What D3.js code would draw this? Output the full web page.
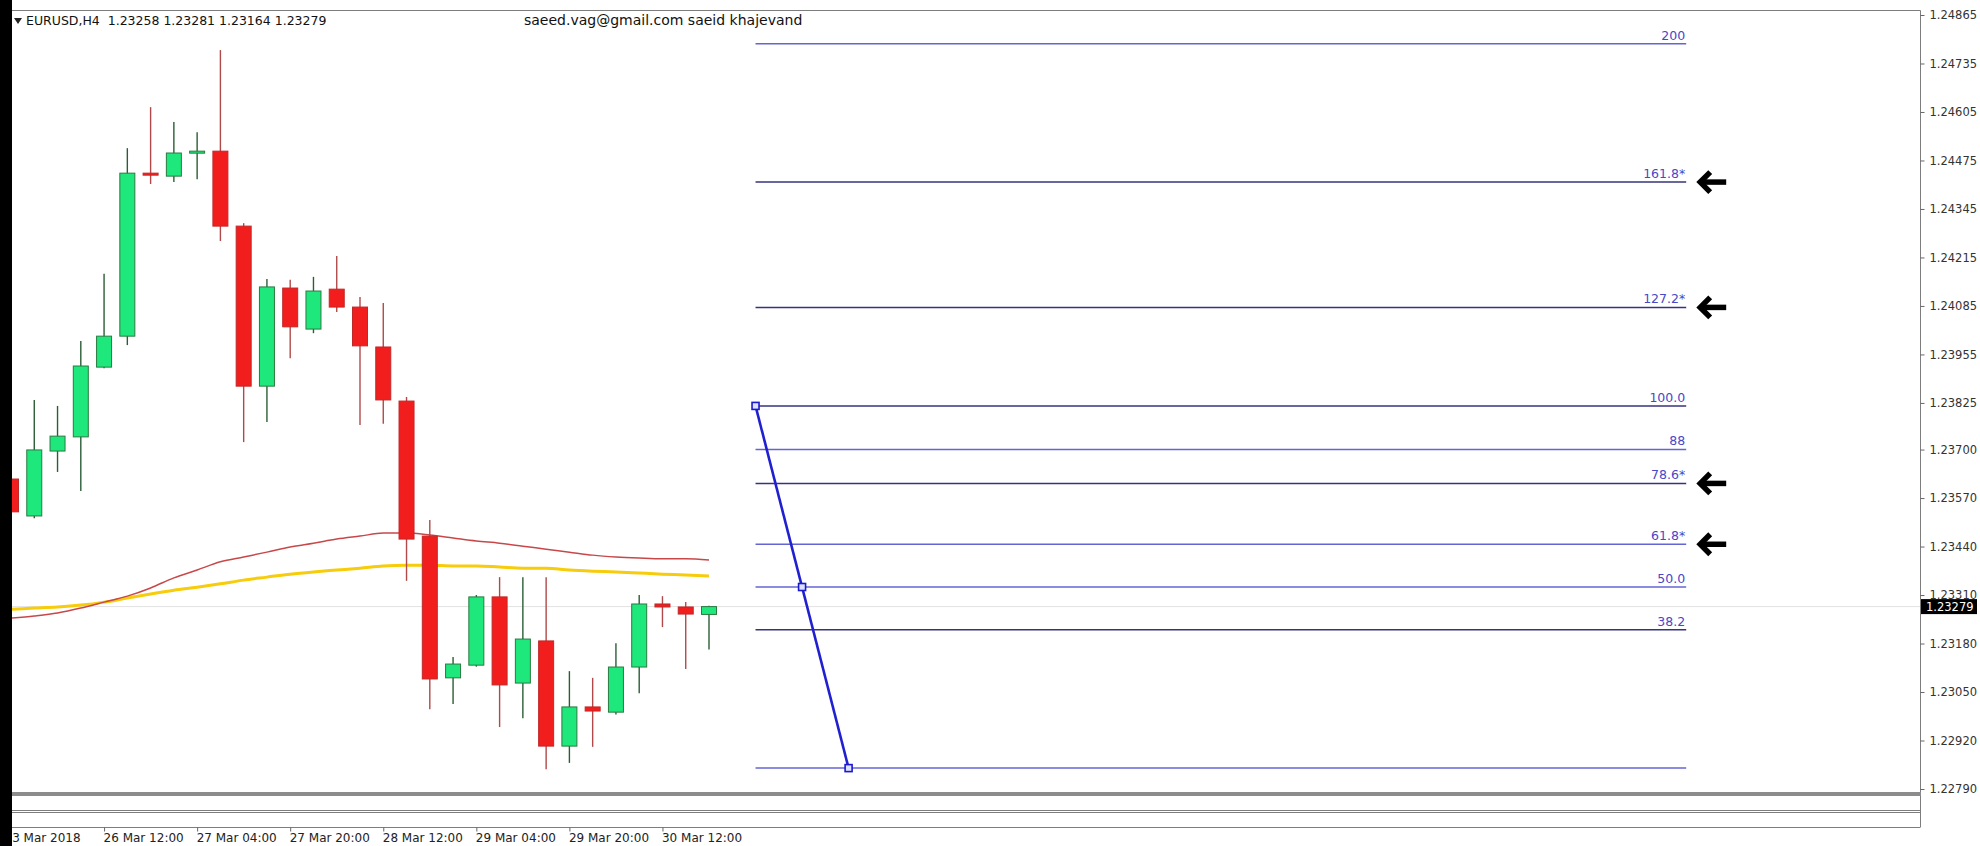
<!DOCTYPE html>
<html><head><meta charset="utf-8">
<script src="https://cdn.jsdelivr.net/npm/d3@7"></script>
<style>body{margin:0;background:#fff;overflow:hidden;} svg{display:block;}</style>
</head><body>
<svg id="c" width="1980" height="846"></svg>
<script>
// ---------- DATA ----------
const barTimes = ["23 Mar 20:00","26 Mar 00:00","26 Mar 04:00","26 Mar 08:00","26 Mar 12:00","26 Mar 16:00","26 Mar 20:00",
  "27 Mar 00:00","27 Mar 04:00","27 Mar 08:00","27 Mar 12:00","27 Mar 16:00","27 Mar 20:00",
  "28 Mar 00:00","28 Mar 04:00","28 Mar 08:00","28 Mar 12:00","28 Mar 16:00","28 Mar 20:00",
  "29 Mar 00:00","29 Mar 04:00","29 Mar 08:00","29 Mar 12:00","29 Mar 16:00","29 Mar 20:00",
  "30 Mar 00:00","30 Mar 04:00","30 Mar 08:00","30 Mar 12:00","30 Mar 16:00","30 Mar 20:00"];
const openP  = [1.23621,1.23522,1.23696,1.23734,1.23921,1.24004,1.24441,1.24433,1.24495,1.24500,1.24299,1.23870,1.24133,1.24023,1.24130,1.24082,1.23975,1.23830,1.23468,1.23088,1.23122,1.23305,1.23074,1.23187,1.22905,1.23010,1.22996,1.23117,1.23286,1.23278,1.23258];
const highP  = [1.23645,1.23833,1.23817,1.23991,1.24171,1.24508,1.24618,1.24578,1.24551,1.24771,1.24307,1.24157,1.24155,1.24163,1.24219,1.24109,1.24093,1.23841,1.23511,1.23144,1.23310,1.23358,1.23358,1.23358,1.23106,1.23088,1.23181,1.23310,1.23307,1.23291,1.23281];
const lowP   = [1.23525,1.23516,1.23640,1.23589,1.23918,1.23980,1.24412,1.24417,1.24425,1.24259,1.23720,1.23774,1.23945,1.24012,1.24069,1.23766,1.23769,1.23348,1.23004,1.23018,1.23118,1.22956,1.22980,1.22843,1.22860,1.22903,1.22990,1.23047,1.23224,1.23112,1.23164];
const closeP = [1.23533,1.23699,1.23736,1.23924,1.24004,1.24441,1.24436,1.24495,1.24500,1.24299,1.23870,1.24136,1.24029,1.24125,1.24082,1.23978,1.23833,1.23460,1.23085,1.23125,1.23305,1.23069,1.23192,1.22905,1.23010,1.22999,1.23117,1.23286,1.23278,1.23259,1.23279];
const maRed    = [1.23248,1.23254,1.23262,1.23275,1.23291,1.23307,1.23329,1.23356,1.23377,1.23399,1.23412,1.23425,1.23439,1.23449,1.23460,1.23468,1.23476,1.23476,1.23471,1.23463,1.23455,1.23449,1.23441,1.23433,1.23425,1.23417,1.23412,1.23409,1.23407,1.23407,1.23404];
const maYellow = [1.23272,1.23275,1.23278,1.23283,1.23291,1.23302,1.23313,1.23323,1.23331,1.23340,1.23350,1.23358,1.23366,1.23372,1.23377,1.23382,1.23388,1.23390,1.23390,1.23388,1.23388,1.23385,1.23382,1.23382,1.23377,1.23374,1.23372,1.23369,1.23366,1.23364,1.23361];
const priceTicks = [1.24865,1.24735,1.24605,1.24475,1.24345,1.24215,1.24085,1.23955,1.23825,1.23700,1.23570,1.23440,1.23310,1.23180,1.23050,1.22920,1.22790];
const timeTickBars = [0,4,8,12,16,20,24,28];
const timeTickLabels = ["23 Mar 2018","26 Mar 12:00","27 Mar 04:00","27 Mar 20:00","28 Mar 12:00","29 Mar 04:00","29 Mar 20:00","30 Mar 12:00"];
const fibLevels = [0,38.2,50,61.8,78.6,88,100,127.2,161.8,200];
const fibLabels = ["","38.2","50.0","61.8*","78.6*","88","100.0","127.2*","161.8*","200"];
const fibDark   = [false,true,false,false,true,false,true,true,true,false];
const fibArrowLevels = [61.8,78.6,127.2,161.8];
const fibAnchorBars = [32,36];
const fibAnchorPrices = [1.23817,1.22846];
const fibEndBar = 72;
const symbolText = "EURUSD,H4  1.23258 1.23281 1.23164 1.23279";
const authorText = "saeed.vag@gmail.com saeid khajevand";
const lastPrice = 1.23279;

// ---------- SCALES ----------
const svg = d3.select("#c");
const plotL = 12, plotR = 1920, plotT = 10, plotB = 792;
const y = d3.scaleLinear().domain([priceTicks[priceTicks.length-1], priceTicks[0]]).range([789, 15]);
const x = d3.scaleLinear().domain([0, 30]).range([11, 709]);
const bodyW = 15;

svg.append("rect").attr("width",1980).attr("height",846).attr("fill","#fff");
svg.append("defs").append("clipPath").attr("id","plot")
  .append("rect").attr("x",plotL).attr("y",plotT).attr("width",plotR-plotL).attr("height",plotB-plotT);

const plot = svg.append("g").attr("clip-path","url(#plot)");

// bid line
plot.append("line").attr("x1",plotL).attr("x2",plotR)
  .attr("y1",y(lastPrice)).attr("y2",y(lastPrice)).attr("stroke","#e2e2e2").attr("stroke-width",1);

// moving averages
const idx = d3.range(barTimes.length);
const lineGen = arr => d3.line().x(i=>x(i)).y(i=>y(arr[i])).curve(d3.curveMonotoneX)(idx);
plot.append("path").attr("d",lineGen(maYellow)).attr("fill","none").attr("stroke","#f7cc0a").attr("stroke-width",3);
plot.append("path").attr("d",lineGen(maRed)).attr("fill","none").attr("stroke","#c8484a").attr("stroke-width",1.5);

// candles
const candles = plot.selectAll("g.candle").data(idx).join("g").attr("class","candle");
candles.append("line")
  .attr("x1",i=>x(i)).attr("x2",i=>x(i))
  .attr("y1",i=>y(highP[i])).attr("y2",i=>y(lowP[i]))
  .attr("stroke",i=>closeP[i]>=openP[i]?"#2b5e36":"#b04a4a").attr("stroke-width",1.4);
candles.append("rect")
  .attr("x",i=>x(i)-bodyW/2)
  .attr("y",i=>y(Math.max(openP[i],closeP[i])))
  .attr("width",bodyW)
  .attr("height",i=>Math.max(2,Math.abs(y(openP[i])-y(closeP[i]))))
  .attr("fill",i=>closeP[i]>=openP[i]?"#1ee87c":"#f21d1d")
  .attr("stroke",i=>closeP[i]>=openP[i]?"#2a7a40":"#c02828").attr("stroke-width",1);

// fibonacci
const fibHi = fibAnchorPrices[0], fibLo = fibAnchorPrices[1];
const fibPrice = l => fibLo + (fibHi-fibLo)*l/100;
const fx0 = x(fibAnchorBars[0]), fx1 = x(fibEndBar);
const fib = plot.append("g");
fib.selectAll("line").data(fibLevels).join("line")
  .attr("x1",fx0).attr("x2",fx1)
  .attr("y1",l=>y(fibPrice(l))).attr("y2",l=>y(fibPrice(l)))
  .attr("stroke",(l,i)=>fibDark[i]?"#34347e":"#6464d4").attr("stroke-width",1.5);
fib.selectAll("text").data(fibLevels).join("text")
  .attr("x",fx1-1).attr("y",l=>y(fibPrice(l))-4)
  .attr("text-anchor","end").attr("font-family","DejaVu Sans").attr("font-size",12.5)
  .attr("fill","#4848c8").text((l,i)=>fibLabels[i]);

// trend line of fib
const tA = [x(fibAnchorBars[0]), y(fibHi)], tB = [x(fibAnchorBars[1]), y(fibLo)];
fib.append("line").attr("x1",tA[0]).attr("y1",tA[1]).attr("x2",tB[0]).attr("y2",tB[1])
  .attr("stroke","#2020d0").attr("stroke-width",2.6);
const midBar = (fibAnchorBars[0]+fibAnchorBars[1])/2;
[[tA[0],tA[1]],[x(midBar),y(fibPrice(50))],[tB[0],tB[1]]].forEach(p=>{
  fib.append("rect").attr("x",p[0]-3.5).attr("y",p[1]-3.5).attr("width",7).attr("height",7)
    .attr("fill","#dde0ff").attr("stroke","#1a1acc").attr("stroke-width",1.6);
});

// arrows
fibArrowLevels.forEach(l=>{
  const ay = y(fibPrice(l)), ax = fx1 + 12;
  const g = plot.append("g").attr("stroke","#000").attr("fill","none").attr("stroke-width",5.5)
    .attr("stroke-linejoin","miter").attr("stroke-linecap","butt");
  g.append("path").attr("d",`M${ax+12},${ay-10} L${ax+2},${ay} L${ax+12},${ay+10}`);
  g.append("path").attr("d",`M${ax+3},${ay} L${ax+28},${ay}`);
});

// ---------- FRAME ----------
const frame = svg.append("g").attr("stroke","#7d7d7d").attr("fill","none");
frame.append("path").attr("d",`M${plotL},${plotT+0.5} H${plotR+0.5} V827`).attr("stroke-width",1);
svg.append("rect").attr("x",plotL).attr("y",792).attr("width",plotR-plotL+1).attr("height",4).attr("fill","#8c8c8c");
[810.5,812.5,827.5].forEach(v=>frame.append("line").attr("x1",plotL).attr("x2",plotR+0.5).attr("y1",v).attr("y2",v).attr("stroke-width",1));

// price axis
const yAxis = d3.axisRight(y).tickValues(priceTicks).tickFormat(d3.format(".5f")).tickSize(4).tickPadding(5);
const ya = svg.append("g").attr("transform",`translate(${plotR+0.5},0)`).call(yAxis);
ya.select(".domain").remove();
ya.selectAll("line").attr("stroke","#666");
ya.selectAll("text").attr("font-family","DejaVu Sans").attr("font-size",11.5).attr("fill","#333");

// last price label
svg.append("rect").attr("x",plotR+1).attr("y",y(lastPrice)-7.5).attr("width",56).attr("height",15).attr("fill","#000");
svg.append("text").attr("x",plotR+6).attr("y",y(lastPrice)+4.5).attr("font-family","DejaVu Sans")
  .attr("font-size",11.5).attr("fill","#fff").text(d3.format(".5f")(lastPrice));

// time axis
const xAxis = d3.axisBottom(x).tickValues(timeTickBars).tickFormat((d,i)=>timeTickLabels[i]).tickSize(4).tickPadding(2);
const xa = svg.append("g").attr("transform","translate(0,827.5)").call(xAxis);
xa.select(".domain").remove();
xa.selectAll("line").attr("stroke","#666");
xa.selectAll("text").attr("text-anchor","start").attr("dx",(d,i)=>i===0?-7:-1)
  .attr("font-family","DejaVu Sans").attr("font-size",12).attr("fill","#222");

// header
svg.append("path").attr("d","M14,18 L22,18 L18,24 Z").attr("fill","#222");
svg.append("text").attr("x",26).attr("y",25).attr("font-family","DejaVu Sans").attr("font-size",12.5)
  .attr("fill","#111").attr("xml:space","preserve").style("white-space","pre").text(symbolText);
svg.append("text").attr("x",524).attr("y",25).attr("font-family","DejaVu Sans").attr("font-size",14)
  .attr("fill","#111").text(authorText);

// left black bar
svg.append("rect").attr("x",0).attr("y",0).attr("width",12).attr("height",846).attr("fill","#000");
</script>
</body></html>
